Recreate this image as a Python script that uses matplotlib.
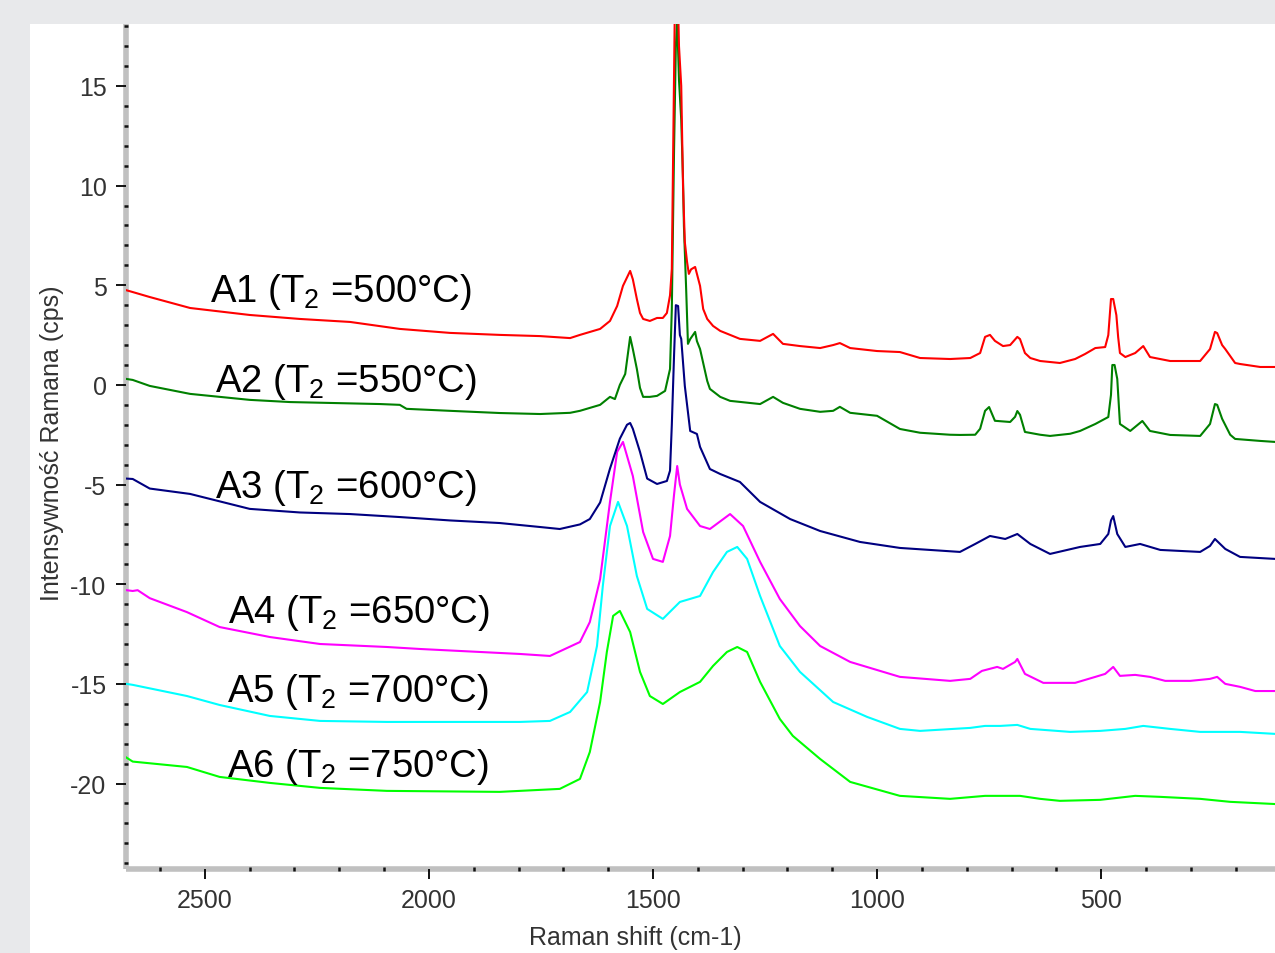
import matplotlib
matplotlib.use("Agg")
import matplotlib.pyplot as plt
from matplotlib.ticker import MultipleLocator, FixedLocator
from matplotlib.patches import Rectangle

plt.rcParams['font.family'] = ['Liberation Sans', 'DejaVu Sans']
plt.rcParams['mathtext.fontset'] = 'custom'
plt.rcParams['mathtext.rm'] = 'Liberation Sans'
plt.rcParams['mathtext.it'] = 'Liberation Sans'
plt.rcParams['axes.unicode_minus'] = False

# ---------------- data ----------------
a1_x = [2675, 2661, 2623, 2533, 2400, 2288, 2176, 2065, 1953, 1842, 1752, 1685, 1663, 1618, 1596, 1580,
        1567, 1551, 1545, 1536, 1529, 1522, 1507, 1491, 1478, 1469, 1462, 1458, 1455, 1451, 1446, 1442,
        1437, 1433, 1429, 1424, 1420, 1415, 1406, 1395, 1388, 1379, 1366, 1350, 1306, 1261, 1232, 1210,
        1172, 1127, 1098, 1083, 1060, 1000, 949, 904, 837, 792, 770, 759, 748, 737, 719, 703, 687, 681,
        670, 658, 636, 592, 558, 536, 513, 491, 484, 478, 473, 466, 462, 458, 446, 424, 406, 391, 346,
        279, 257, 246, 241, 230, 223, 201, 190, 145, 112]
a1_y = [4.75, 4.66, 4.41, 3.86, 3.51, 3.31, 3.16, 2.81, 2.61, 2.51, 2.45, 2.35, 2.51, 2.81, 3.21, 3.96,
        4.97, 5.72, 5.3, 4.31, 3.61, 3.31, 3.21, 3.36, 3.36, 3.61, 4.5, 5.82, 11.69, 19.5, 21.0, 17.0,
        15.0, 9.98, 7.17, 6.17, 5.57, 5.8, 5.92, 4.97, 3.81, 3.31, 2.96, 2.71, 2.31, 2.21, 2.56, 2.06,
        1.95, 1.85, 2.0, 2.1, 1.85, 1.7, 1.65, 1.35, 1.3, 1.35, 1.6, 2.41, 2.51, 2.21, 1.95, 2.0, 2.41, 2.3,
        1.6, 1.35, 1.2, 1.1, 1.3, 1.55, 1.85, 1.9, 2.5, 4.31, 4.31, 3.5, 2.4, 1.6, 1.4, 1.6, 1.95, 1.4, 1.2,
        1.2, 1.8, 2.66, 2.6, 2.0, 1.8, 1.1, 1.05, 0.9, 0.9]

a2_x = [2675, 2661, 2623, 2533, 2400, 2310, 2109, 2065, 2050, 1953, 1842, 1752, 1685, 1663, 1618, 1596,
        1585, 1574, 1562, 1551, 1545, 1536, 1529, 1522, 1507, 1491, 1473, 1462, 1458, 1453, 1449, 1446,
        1442, 1437, 1433, 1431, 1426, 1422, 1417, 1406, 1402, 1395, 1379, 1373, 1350, 1328, 1261, 1232,
        1210, 1172, 1127, 1098, 1083, 1060, 1000, 949, 904, 837, 815, 781, 770, 759, 750, 737, 703, 692,
        687, 681, 670, 636, 614, 569, 547, 513, 484, 478, 475, 470, 464, 458, 435, 408, 391, 346, 279,
        257, 246, 241, 230, 212, 201, 145, 112]
a2_y = [0.3, 0.25, -0.05, -0.45, -0.75, -0.86, -0.96, -1.0, -1.2, -1.3, -1.41, -1.46, -1.4, -1.3, -1.0, -0.6,
        -0.71, 0.0, 0.55, 2.41, 1.8, 0.8, -0.15, -0.6, -0.6, -0.55, -0.3, 0.8, 3.8, 11.8, 17.0, 18.3,
        15.3, 13.3, 10.3, 7.97, 4.8, 2.06, 2.3, 2.66, 2.2, 1.8, 0.2, -0.2, -0.6, -0.8, -0.96, -0.6,
        -0.9, -1.2, -1.35, -1.3, -1.1, -1.4, -1.55, -2.21, -2.4, -2.5, -2.51, -2.5, -2.2, -1.3, -1.11, -1.8,
        -1.86, -1.6, -1.31, -1.5, -2.36, -2.5, -2.56, -2.45, -2.31, -1.96, -1.61, -0.5, 1.0, 1.0, 0.3,
        -1.96, -2.31, -1.81, -2.31, -2.51, -2.56, -1.96, -0.96, -1.0, -1.7, -2.5, -2.71, -2.81, -2.86]

a3_x = [2675, 2661, 2623, 2533, 2400, 2288, 2176, 2065, 1953, 1842, 1752, 1708, 1663, 1641, 1618, 1596,
        1574, 1558, 1551, 1545, 1529, 1513, 1491, 1469, 1462, 1458, 1453, 1449, 1444, 1440, 1437, 1429,
        1417, 1402, 1395, 1373, 1350, 1306, 1261, 1194, 1127, 1038, 949, 815, 781, 748, 714, 687, 658,
        614, 547, 502, 484, 478, 473, 464, 446, 413, 368, 279, 257, 246, 223, 190, 112]
a3_y = [-4.7, -4.72, -5.2, -5.47, -6.22, -6.4, -6.48, -6.63, -6.8, -6.93, -7.13, -7.23, -7.0, -6.73, -5.9, -4.2,
        -2.7, -2.0, -1.91, -2.2, -3.36, -4.7, -4.97, -4.82, -4.3, -2.0, 1.5, 4.0, 3.96, 2.5, 2.31, -0.05,
        -2.31, -2.46, -3.11, -4.22, -4.47, -4.87, -5.87, -6.73, -7.33, -7.88, -8.18, -8.38, -7.98, -7.58,
        -7.73, -7.48, -7.98, -8.48, -8.13, -7.98, -7.48, -6.8, -6.58, -7.48, -8.13, -7.98, -8.28, -8.38,
        -8.08, -7.73, -8.23, -8.63, -8.73]

a4_x = [2675, 2661, 2650, 2623, 2540, 2467, 2355, 2243, 2094, 2020, 1797, 1730, 1663, 1641, 1618, 1596,
        1580, 1567, 1545, 1522, 1500, 1478, 1462, 1453, 1446, 1440, 1424, 1395, 1373, 1328, 1299, 1261,
        1217, 1172, 1127, 1060, 949, 837, 792, 766, 732, 719, 692, 687, 670, 629, 558, 513, 491, 473,
        458, 424, 391, 357, 301, 257, 241, 223, 190, 156, 112]
a4_y = [-10.3, -10.34, -10.3, -10.7, -11.4, -12.15, -12.65, -13.0, -13.15, -13.25, -13.5, -13.6, -12.9, -11.9,
        -9.74, -5.87, -3.36, -2.86, -4.57, -7.38, -8.73, -8.88, -7.58, -5.5, -4.07, -5.0, -6.22, -7.08, -7.23,
        -6.48, -7.08, -8.88, -10.74, -12.1, -13.1, -13.9, -14.65, -14.85, -14.75, -14.35, -14.15, -14.25,
        -13.9, -13.75, -14.5, -14.95, -14.95, -14.65, -14.5, -14.15, -14.6, -14.55, -14.65, -14.85, -14.85,
        -14.75, -14.65, -15.0, -15.15, -15.36, -15.36]

a5_x = [2675, 2661, 2540, 2467, 2355, 2243, 2094, 1797, 1730, 1685, 1647, 1625, 1612, 1596, 1578, 1558,
        1536, 1513, 1478, 1440, 1395, 1366, 1335, 1312, 1290, 1261, 1217, 1172, 1098, 1022, 949, 904, 792,
        759, 725, 687, 658, 569, 502, 446, 406, 346, 279, 190, 112]
a5_y = [-15.0, -15.05, -15.61, -16.06, -16.61, -16.86, -16.91, -16.91, -16.86, -16.41, -15.41, -13.1, -10.09,
        -7.08, -5.87, -7.08, -9.59, -11.24, -11.74, -10.89, -10.59, -9.39, -8.38, -8.13, -8.73, -10.59, -13.1,
        -14.4, -15.91, -16.66, -17.26, -17.36, -17.21, -17.11, -17.11, -17.06, -17.26, -17.41, -17.36, -17.26,
        -17.11, -17.26, -17.41, -17.41, -17.51]

a6_x = [2675, 2661, 2540, 2467, 2355, 2243, 2094, 1842, 1708, 1663, 1641, 1618, 1603, 1589, 1574, 1551,
        1529, 1507, 1478, 1440, 1395, 1366, 1335, 1312, 1290, 1261, 1217, 1188, 1127, 1060, 949, 837, 759,
        681, 636, 592, 502, 424, 368, 279, 212, 112]
a6_y = [-18.7, -18.9, -19.17, -19.67, -19.97, -20.22, -20.37, -20.42, -20.27, -19.77, -18.42, -15.91, -13.4,
        -11.59, -11.34, -12.4, -14.4, -15.61, -16.01, -15.41, -14.9, -14.1, -13.4, -13.15, -13.4, -14.9, -16.76,
        -17.61, -18.77, -19.92, -20.62, -20.77, -20.62, -20.62, -20.77, -20.87, -20.82, -20.62, -20.67, -20.77,
        -20.92, -21.03]

series_names = ['A1', 'A2', 'A3', 'A4', 'A5', 'A6']
series_temps = ['500', '550', '600', '650', '700', '750']
series_colors = ['#ff0000', '#008000', '#000080', '#ff00ff', '#00ffff', '#00ff00']
label_x = [2489, 2478, 2478, 2449, 2451, 2451]
label_y = [4.2, -0.3, -5.62, -11.89, -15.86, -19.62]

xticks = [2500, 2000, 1500, 1000, 500]
yticks = [-20, -15, -10, -5, 0, 5, 10, 15]

xs = [a1_x, a2_x, a3_x, a4_x, a5_x, a6_x]
ys = [a1_y, a2_y, a3_y, a4_y, a5_y, a6_y]

# ---------------- figure ----------------
W, H = 1275, 954
fig = plt.figure(figsize=(W / 100, H / 100), dpi=100)
fig.patch.set_facecolor('#e8e9eb')
panel = Rectangle((30 / W, 0), 1 - 30 / W, 1 - 25 / H, transform=fig.transFigure,
                  facecolor='white', edgecolor='none', zorder=-10)
fig.patches.append(panel)

ax = fig.add_axes([126 / W, (H - 870) / H, (W - 126) / W, (870 - 25) / H])
ax.set_facecolor('none')
ax.set_zorder(5)

for i in range(5, -1, -1):
    ax.plot(xs[i], ys[i], color=series_colors[i], lw=1.5, zorder=3 + (5 - i))

for i in range(6):
    ax.text(label_x[i], label_y[i], series_names[i] + r' (T$_{2}$ =' + series_temps[i] + '°C)',
            fontsize=27.5, color='black', va='baseline', ha='left', zorder=10)

ax.set_xlim(2676, 112)
ax.set_ylim(-24.29, 18.11)

for s in ['top', 'right']:
    ax.spines[s].set_visible(False)
for s in ['left', 'bottom']:
    ax.spines[s].set_color('#c0c0c0')
    ax.spines[s].set_linewidth(4)
    ax.spines[s].set_zorder(2)
    ax.spines[s].set_capstyle('butt')
ax.xaxis.set_zorder(2.6)
ax.yaxis.set_zorder(2.6)

ax.xaxis.set_major_locator(FixedLocator(xticks))
ax.yaxis.set_major_locator(FixedLocator(yticks))
ax.xaxis.set_minor_locator(MultipleLocator(100))
ax.yaxis.set_minor_locator(MultipleLocator(1))
ax.tick_params(which='major', direction='out', length=7, width=1.3, color='black',
               labelsize=18, labelcolor='#333333', pad=7)
ax.tick_params(which='minor', direction='inout', length=3.5, width=1.8, color='#111111')

ax.set_xlabel('Raman shift (cm-1)', fontsize=18, color='#333333')
ax.set_ylabel('Intensywność Ramana (cps)', fontsize=18, color='#333333')
ax.xaxis.set_label_coords((635 - 126) / (W - 126), -(938 - 870) / (870 - 25), transform=ax.transAxes)
ax.yaxis.set_label_coords(-(126 - 52) / (W - 126), (870 - 443) / (870 - 25), transform=ax.transAxes)
ax.xaxis.label.set_va('center')
ax.yaxis.label.set_va('center')

fig.savefig('out.png', dpi=100, facecolor=fig.get_facecolor())
